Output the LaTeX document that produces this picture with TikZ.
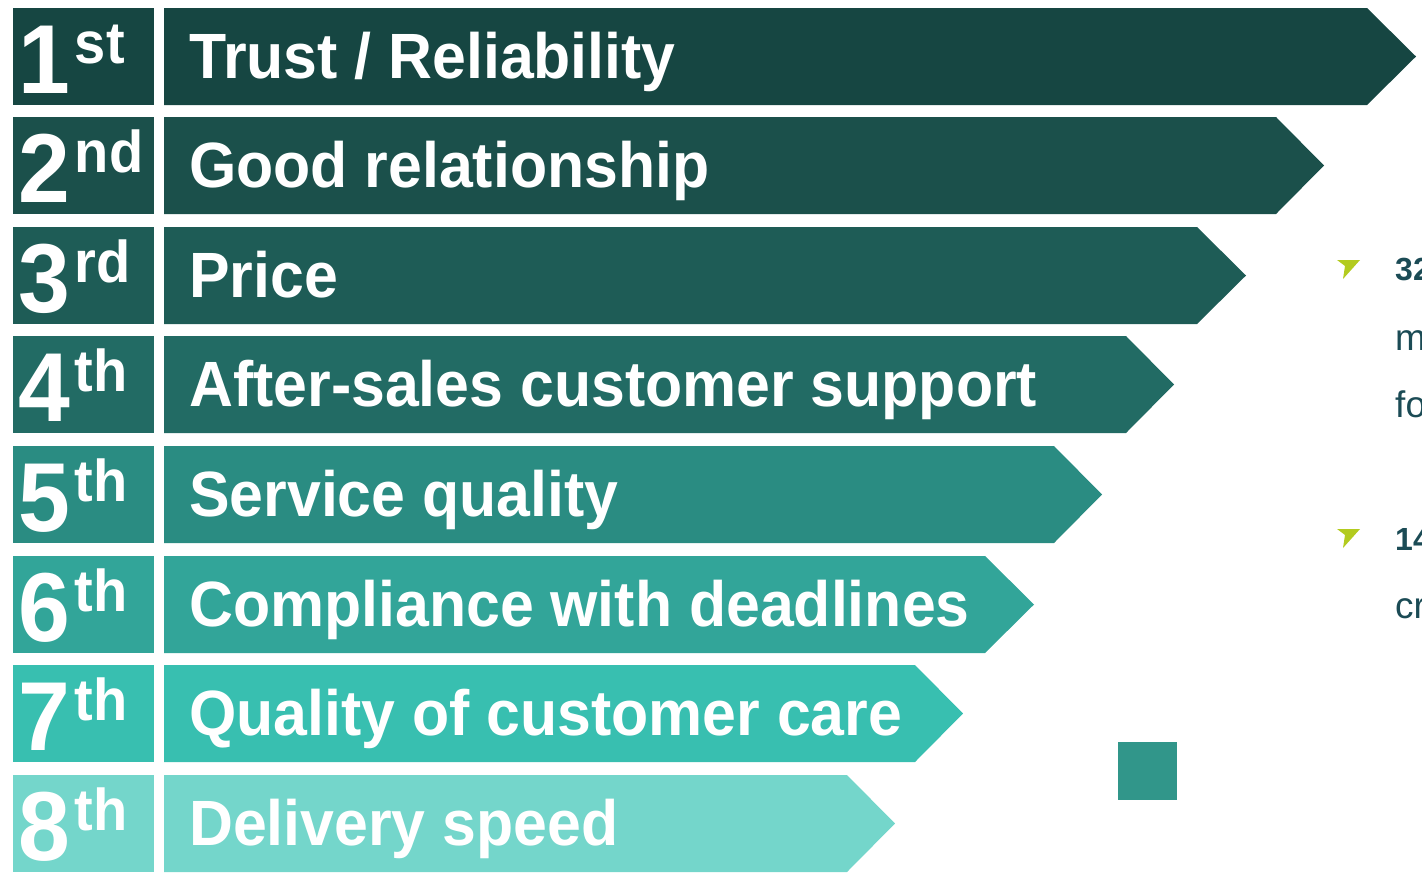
\documentclass[tikz,border=0pt]{standalone}
\usepackage{fontspec}
\setmainfont{Liberation Sans}
\newfontfamily\barfont{Liberation Sans}[FakeStretch=0.95]

\definecolor{rowA}{HTML}{164642}
\definecolor{rowB}{HTML}{1B504B}
\definecolor{rowC}{HTML}{1E5C56}
\definecolor{rowD}{HTML}{226B64}
\definecolor{rowE}{HTML}{2A8C82}
\definecolor{rowF}{HTML}{32A599}
\definecolor{rowG}{HTML}{38BFB0}
\definecolor{rowH}{HTML}{74D6CB}
\definecolor{lime}{HTML}{B3CB1F}
\definecolor{sidetext}{HTML}{1B4B55}
\definecolor{block}{HTML}{31968A}

\newcommand{\rk}[2]{\fontsize{98}{98}\selectfont #1\kern5pt\raise30pt\hbox{\fontsize{59}{59}\selectfont #2}}

\begin{document}
\begin{tikzpicture}[x=1pt,y=-1pt,
    rank/.style={anchor=base west, inner sep=0pt, text=white, font=\barfont\bfseries},
    label/.style={anchor=base west, inner sep=0pt, text=white, font=\barfont\bfseries\fontsize{64}{64}\selectfont},
    side/.style={anchor=base west, inner sep=0pt, text=sidetext}]
    \useasboundingbox (0,0) rectangle (1422,876);
    \clip (0,0) rectangle (1422,876);

    % rank boxes
    \fill[rowA] (13,8) rectangle ++(141,97);
    \fill[rowB] (13,117) rectangle ++(141,97);
    \fill[rowC] (13,227) rectangle ++(141,97);
    \fill[rowD] (13,336) rectangle ++(141,97);
    \fill[rowE] (13,446) rectangle ++(141,97);
    \fill[rowF] (13,556) rectangle ++(141,97);
    \fill[rowG] (13,665) rectangle ++(141,97);
    \fill[rowH] (13,775) rectangle ++(141,97);

    % bars
    \fill[rowA] (164,8) -- (1367,8) -- (1416,56.5) -- (1367,105) -- (164,105) -- cycle;
    \fill[rowB] (164,117) -- (1276,117) -- (1324,165.5) -- (1276,214) -- (164,214) -- cycle;
    \fill[rowC] (164,227) -- (1197,227) -- (1246,275.5) -- (1197,324) -- (164,324) -- cycle;
    \fill[rowD] (164,336) -- (1126,336) -- (1174,384.5) -- (1126,433) -- (164,433) -- cycle;
    \fill[rowE] (164,446) -- (1054,446) -- (1102,494.5) -- (1054,543) -- (164,543) -- cycle;
    \fill[rowF] (164,556) -- (985,556) -- (1034,604.5) -- (985,653) -- (164,653) -- cycle;
    \fill[rowG] (164,665) -- (915,665) -- (963,713.5) -- (915,762) -- (164,762) -- cycle;
    \fill[rowH] (164,775) -- (847,775) -- (895,823.5) -- (847,872) -- (164,872) -- cycle;

    % ranks
    \node[rank] (r1) at (18,93) {\rk{1}{st}};
    \node[rank] (r2) at (18,202) {\rk{2}{nd}};
    \node[rank] (r3) at (18,312) {\rk{3}{rd}};
    \node[rank] (r4) at (18,421) {\rk{4}{th}};
    \node[rank] (r5) at (18,531) {\rk{5}{th}};
    \node[rank] (r6) at (18,641) {\rk{6}{th}};
    \node[rank] (r7) at (18,750) {\rk{7}{th}};
    \node[rank] (r8) at (18,860) {\rk{8}{th}};

    % criteria
    \node[label] (c1) at (189,78) {Trust / Reliability};
    \node[label] (c2) at (189,187) {Good relationship};
    \node[label] (c3) at (189,297) {Price};
    \node[label] (c4) at (189,406) {After-sales customer support};
    \node[label] (c5) at (189,516) {Service quality};
    \node[label] (c6) at (189,626) {Compliance with deadlines};
    \node[label] (c7) at (189,735) {Quality of customer care};
    \node[label] (c8) at (189,845) {Delivery speed};

    % side notes
    \fill[lime] (1337,260) -- (1360,260) -- (1343,279) -- (1345,266) -- cycle;
    \fill[lime] (1337,529) -- (1360,529) -- (1343,548) -- (1345,535) -- cycle;
    \node[side, font=\bfseries\fontsize{32}{32}\selectfont] (n1) at (1395,280) {32};
    \node[side, font=\fontsize{37}{37}\selectfont] (n1a) at (1395,350) {m};
    \node[side, font=\fontsize{37}{37}\selectfont] (n1b) at (1395,417) {fo};
    \node[side, font=\bfseries\fontsize{32}{32}\selectfont] (n2) at (1395,550) {14};
    \node[side, font=\fontsize{37}{37}\selectfont] (n2a) at (1395,618) {cr};

    \fill[block] (1118,742) rectangle (1177,800);

\end{tikzpicture}
\end{document}
